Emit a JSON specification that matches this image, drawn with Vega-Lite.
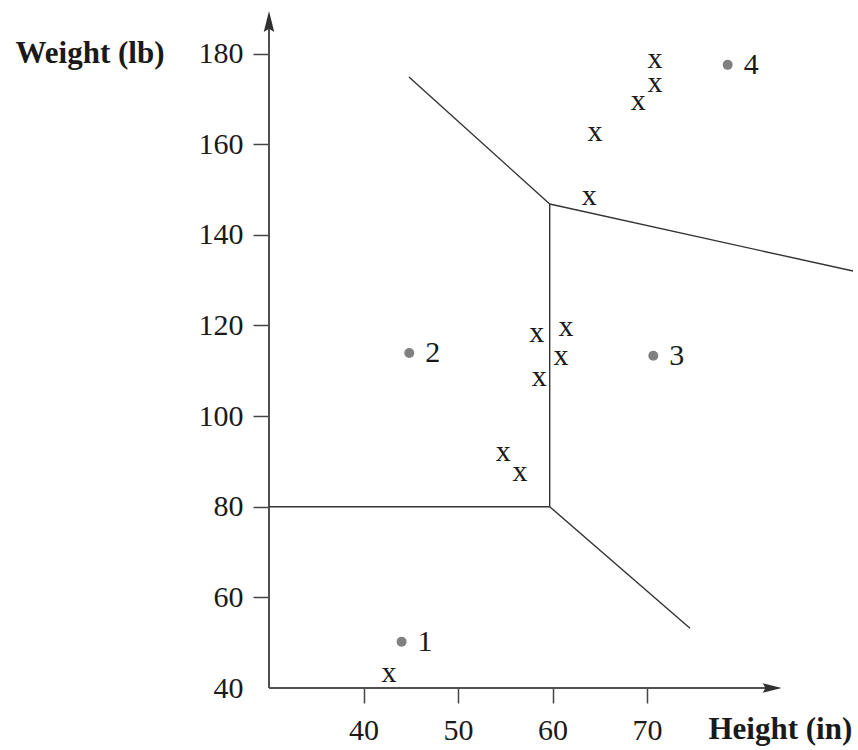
{
  "$schema": "https://vega.github.io/schema/vega-lite/v6.json",
  "width": 586,
  "height": 673,
  "autosize": "none",
  "padding": {"left": 269, "top": 15, "right": 3, "bottom": 62},
  "background": "white",
  "config": {"view": {"stroke": null}, "font": "Liberation Serif"},
  "datasets": {
    "boundaries": [
      {"x1": 30, "y1": 80, "x2": 59.7, "y2": 80},
      {"x1": 59.7, "y1": 80, "x2": 59.7, "y2": 146.8},
      {"x1": 59.7, "y1": 80, "x2": 74.54, "y2": 53.2},
      {"x1": 59.7, "y1": 146.8, "x2": 44.81, "y2": 174.8},
      {"x1": 59.7, "y1": 146.8, "x2": 91.79, "y2": 132.0}
    ],
    "axisLines": [
      {"x1": 30, "y1": 40, "x2": 83.2, "y2": 40},
      {"x1": 30, "y1": 40, "x2": 30, "y2": 187}
    ],
    "arrowUp": [{"x": 30, "y": 187.07}],
    "arrowRight": [{"x": 83.24, "y": 40}],
    "samples": [
      {"height": 42.7, "weight": 42.8},
      {"height": 54.79, "weight": 91.6},
      {"height": 56.56, "weight": 87.2},
      {"height": 58.6, "weight": 108.2},
      {"height": 58.32, "weight": 117.9},
      {"height": 61.42, "weight": 119.2},
      {"height": 60.89, "weight": 112.9},
      {"height": 63.89, "weight": 148.1},
      {"height": 64.49, "weight": 162.2},
      {"height": 69.07, "weight": 169.0},
      {"height": 70.84, "weight": 178.4},
      {"height": 70.84, "weight": 173.1}
    ],
    "centers": [
      {"height": 44.03, "weight": 50.2, "label": "1"},
      {"height": 44.84, "weight": 113.9, "label": "2"},
      {"height": 70.66, "weight": 113.3, "label": "3"},
      {"height": 78.53, "weight": 177.5, "label": "4"}
    ]
  },
  "layer": [
    {
      "data": {"name": "axisLines"},
      "mark": {"type": "rule", "color": "#505050", "strokeWidth": 2},
      "encoding": {
        "x": {
          "field": "x1",
          "type": "quantitative",
          "scale": {"domain": [30, 92], "nice": false, "zero": false},
          "axis": {
            "values": [40, 50, 60, 70],
            "domain": false,
            "grid": false,
            "tickSize": 15,
            "tickColor": "#444444",
            "tickWidth": 1.5,
            "labelFont": "Liberation Serif",
            "labelFontSize": 30,
            "labelColor": "#1a1a1a",
            "labelPadding": 12,
            "title": "Height (in)",
            "titleFont": "Liberation Serif",
            "titleFontWeight": "bold",
            "titleFontSize": 31,
            "titleColor": "#1a1a1a",
            "titleAngle": 0,
            "titleAlign": "left",
            "titleBaseline": "middle",
            "titleX": 439,
            "titleY": 41
          }
        },
        "y": {
          "field": "y1",
          "type": "quantitative",
          "scale": {"domain": [40, 188.5], "nice": false, "zero": false},
          "axis": {
            "values": [40, 60, 80, 100, 120, 140, 160, 180],
            "domain": false,
            "grid": false,
            "tickSize": 16,
            "tickColor": "#444444",
            "tickWidth": 1.5,
            "tickOpacity": {"condition": {"test": "datum.value === 40", "value": 0}, "value": 1},
            "labelFont": "Liberation Serif",
            "labelFontSize": 30,
            "labelColor": "#1a1a1a",
            "labelPadding": 10,
            "title": "Weight (lb)",
            "titleFont": "Liberation Serif",
            "titleFontWeight": "bold",
            "titleFontSize": 31,
            "titleColor": "#1a1a1a",
            "titleAngle": 0,
            "titleAlign": "left",
            "titleBaseline": "middle",
            "titleX": -254,
            "titleY": 38.5
          }
        },
        "x2": {"field": "x2"},
        "y2": {"field": "y2"}
      }
    },
    {
      "data": {"name": "arrowUp"},
      "mark": {
        "type": "point",
        "shape": "M0,-1L0.5,1L0,0.7L-0.5,1Z",
        "size": 441,
        "filled": true,
        "color": "#303030",
        "opacity": 1
      },
      "encoding": {
        "x": {"field": "x", "type": "quantitative"},
        "y": {"field": "y", "type": "quantitative"}
      }
    },
    {
      "data": {"name": "arrowRight"},
      "mark": {
        "type": "point",
        "shape": "M1,0L-1,0.5L-0.7,0L-1,-0.5Z",
        "size": 361,
        "filled": true,
        "color": "#303030",
        "opacity": 1
      },
      "encoding": {
        "x": {"field": "x", "type": "quantitative"},
        "y": {"field": "y", "type": "quantitative"}
      }
    },
    {
      "data": {"name": "boundaries"},
      "mark": {"type": "rule", "color": "#333333", "strokeWidth": 1.4},
      "encoding": {
        "x": {"field": "x1", "type": "quantitative"},
        "y": {"field": "y1", "type": "quantitative"},
        "x2": {"field": "x2"},
        "y2": {"field": "y2"}
      }
    },
    {
      "data": {"name": "samples"},
      "mark": {
        "type": "text",
        "text": "x",
        "font": "Liberation Serif",
        "fontSize": 30,
        "color": "#1a1a1a",
        "align": "center",
        "baseline": "alphabetic",
        "dy": 7
      },
      "encoding": {
        "x": {"field": "height", "type": "quantitative"},
        "y": {"field": "weight", "type": "quantitative"}
      }
    },
    {
      "data": {"name": "centers"},
      "mark": {"type": "point", "shape": "circle", "filled": true, "size": 100, "color": "#808080", "opacity": 1},
      "encoding": {
        "x": {"field": "height", "type": "quantitative"},
        "y": {"field": "weight", "type": "quantitative"}
      }
    },
    {
      "data": {"name": "centers"},
      "mark": {
        "type": "text",
        "font": "Liberation Serif",
        "fontSize": 30,
        "color": "#1a1a1a",
        "align": "left",
        "baseline": "alphabetic",
        "dx": 16,
        "dy": 9
      },
      "encoding": {
        "x": {"field": "height", "type": "quantitative"},
        "y": {"field": "weight", "type": "quantitative"},
        "text": {"field": "label"}
      }
    }
  ]
}
